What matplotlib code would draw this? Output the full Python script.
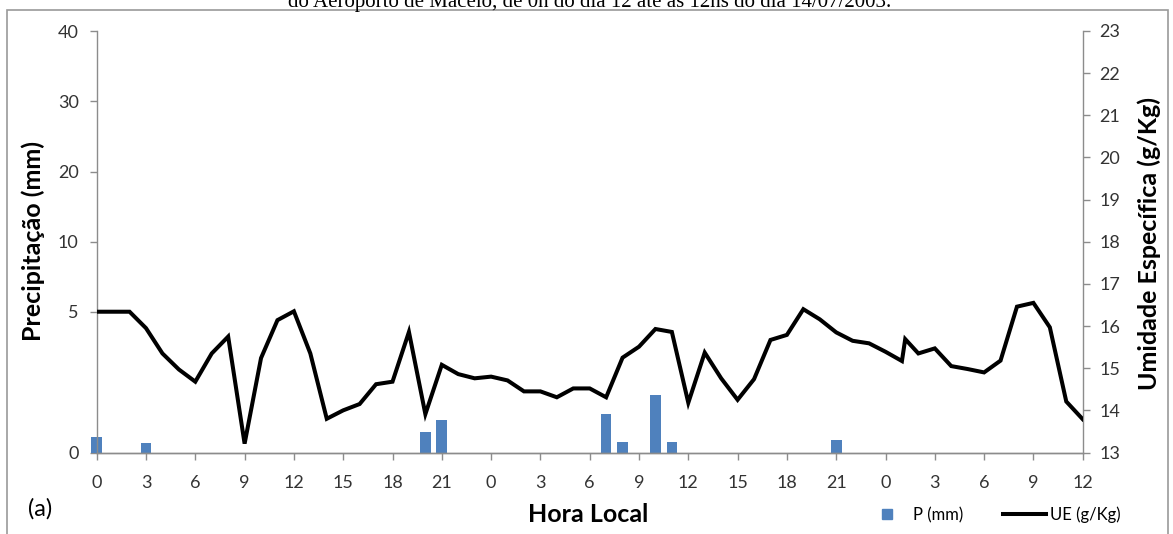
import numpy as np
import matplotlib
matplotlib.use("Agg")
import matplotlib.pyplot as plt
from matplotlib.lines import Line2D
from matplotlib.patches import Rectangle

plt.rcParams['font.family'] = ['Lato', 'DejaVu Sans']

# ---------------- data ----------------
# specific humidity (g/Kg), hourly from 0h day 12 to 12h day 14 (one extra reading ~01h12 day 14)
ue_hours = [0, 1, 2, 3, 4, 5, 6, 7, 8, 9, 10, 11, 12, 13, 14, 15, 16, 17, 18, 19, 20,
            21, 22, 23, 24, 25, 26, 27, 28, 29, 30, 31, 32, 33, 34, 35, 36, 37, 38, 39, 40,
            41, 42, 43, 44, 45, 46, 47, 48, 49, 49.2, 50, 51, 52, 53, 54, 55, 56, 57, 58, 59, 60]
ue_values = [16.34, 16.34, 16.34, 15.95, 15.35, 14.97, 14.68, 15.35, 15.75, 13.21, 15.24,
             16.14, 16.35, 15.35, 13.80, 14.00, 14.15, 14.62, 14.68, 15.86, 13.91,
             15.08, 14.86, 14.76, 14.80, 14.71, 14.45, 14.45, 14.31, 14.52, 14.52,
             14.31, 15.25, 15.51, 15.93, 15.86, 14.18, 15.37, 14.76, 14.25, 14.74,
             15.67, 15.79, 16.40, 16.16, 15.85, 15.65, 15.59, 15.39, 15.17, 15.69,
             15.35, 15.47, 15.05, 14.98, 14.90, 15.18, 16.46, 16.55, 15.97, 14.21, 13.79]

# precipitation (mm)
p_hours = [0, 3, 20, 21, 31, 32, 34, 35, 45]
p_values = [0.55, 0.35, 0.73, 1.14, 1.37, 0.36, 2.06, 0.36, 0.45]

xtick_pos = list(range(0, 61, 3))
xtick_labels = [str(h % 24) for h in xtick_pos]
p_ticks = [0, 5, 10, 20, 30, 40]
p_tick_units = [0, 2, 3, 4, 5, 6]
ue_ticks = list(range(13, 24))

# ---------------- figure ----------------
W, H = 1173, 534
fig = plt.figure(figsize=(W / 100, H / 100), dpi=100)
L, R, T, B = 96.7, 1082.7, 31, 452.5
ax = fig.add_axes([L / W, 1 - B / H, (R - L) / W, (B - T) / H])
ax2 = ax.twinx()

# outer frame of the embedded chart
fig.patches.append(Rectangle((7 / W, -0.05), (1168 - 7) / W, 1 - 9.5 / H + 0.05,
                             transform=fig.transFigure, fill=False,
                             edgecolor='#9a9a9a', linewidth=1.2))

# cut-off caption from the document
fig.text(590 / W, 1 - 7 / H, "do Aeroporto de Maceió, de 0h do dia 12 até as 12hs do dia 14/07/2003.",
         family='Liberation Serif', fontsize=15, ha='center', va='baseline', color='black')

# non-linear precipitation scale
def fwd(v):
    return np.interp(v, p_ticks, p_tick_units)

def inv(u):
    return np.interp(u, p_tick_units, p_ticks)

ax.set_yscale('function', functions=(fwd, inv))
ax.bar(p_hours, p_values, width=0.65, color='#4F81BD', clip_on=False, zorder=2)
ax.set_ylim(0, 40)
ax.set_yticks(p_ticks)
ax.set_yticklabels([str(t) for t in p_ticks])
ax.yaxis.set_minor_locator(matplotlib.ticker.NullLocator())
ax.set_xlim(0, 60)
ax.set_xticks(xtick_pos)
ax.set_xticklabels(xtick_labels)

ax2.plot(ue_hours, ue_values, color='black', linewidth=2.9, solid_joinstyle='miter', zorder=3)
ax2.set_ylim(13, 23)
ax2.set_yticks(ue_ticks)

grey = '#8c8c8c'
tick_col = '#333333'
for a in (ax, ax2):
    for s in a.spines.values():
        s.set_color(grey)
        s.set_linewidth(1.0)
    a.spines['top'].set_visible(False)
    a.tick_params(axis='both', colors=grey, labelcolor=tick_col, labelsize=13,
                  length=5, width=1.0, direction='out')
ax2.spines['left'].set_visible(False)
ax.spines['right'].set_visible(False)
ax.tick_params(axis='x', pad=11)
ax.tick_params(axis='y', pad=8)
ax2.tick_params(axis='y', pad=7)

fig.text(33 / W, 1 - 241 / H, 'Precipitação (mm)', fontsize=18, fontweight='bold',
         rotation=90, ha='center', va='center')
fig.text(1149 / W, 1 - 244 / H, 'Umidade Específica (g/Kg)', fontsize=18, fontweight='bold',
         rotation=90, ha='center', va='center')
fig.text(588 / W, 1 - 515 / H, 'Hora Local', fontsize=18, fontweight='bold',
         ha='center', va='center')
fig.text(28 / W, 1 - 509 / H, '(a)', fontsize=17, ha='left', va='center')

handles = [Line2D([], [], marker='s', linestyle='none', markersize=7.5,
                  color='#4F81BD'),
           Line2D([], [], color='black', linewidth=2.9)]
fig.legend(handles, ['P (mm)', 'UE (g/Kg)'], loc='center',
           bbox_to_anchor=(993 / W, 1 - 515 / H), ncol=2, frameon=False,
           fontsize=12, handlelength=2.6, handletextpad=0.25, columnspacing=2.4)

fig.savefig('out.png', dpi=100)
